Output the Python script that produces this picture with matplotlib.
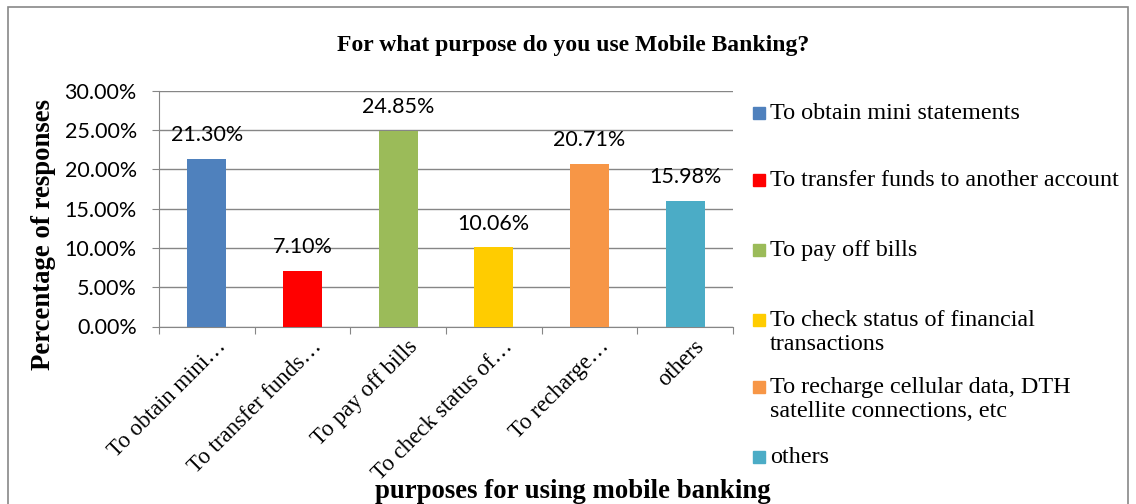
import matplotlib.pyplot as plt
from matplotlib.patches import Rectangle
from matplotlib.ticker import FuncFormatter

# data
short_labels = ['To obtain mini…', 'To transfer funds…', 'To pay off bills',
                'To check status of…', 'To recharge…', 'others']
legend_labels = ['To obtain mini statements',
                 'To transfer funds to another account',
                 'To pay off bills',
                 'To check status of financial\ntransactions',
                 'To recharge cellular data, DTH\nsatellite connections, etc',
                 'others']
values = [21.30, 7.10, 24.85, 10.06, 20.71, 15.98]
colors = ['#4f81bd', '#ff0000', '#9bbb59', '#ffcc00', '#f79646', '#4bacc6']

W, H = 1136, 504
fig = plt.figure(figsize=(W / 100, H / 100), dpi=100)
fig.patch.set_facecolor('white')

# outer chart border
fig.patches.append(Rectangle((8 / W, -0.1), 1120 / W, 1 - 7 / H + 0.1,
                             transform=fig.transFigure, fill=False,
                             edgecolor='#888888', lw=1.2))

ax = fig.add_axes([159 / W, 1 - 326.5 / H, (733 - 159) / W, (326.5 - 90.7) / H])
x = range(len(values))
ax.bar(x, values, width=0.41, color=colors, zorder=3)
for i, v in enumerate(values):
    ax.annotate(f'{v:.2f}%', (i, v), xytext=(0, 10), textcoords='offset points',
                ha='center', va='bottom', fontsize=15.5, family='Lato')

ax.set_xlim(-0.5, len(values) - 0.5)
ax.set_ylim(0, 30)
ax.set_yticks([0, 5, 10, 15, 20, 25, 30])
ax.yaxis.set_major_formatter(FuncFormatter(lambda v, p: f'{v:.2f}%'))
ax.grid(axis='y', color='#868686', lw=1, zorder=0)
for s in ['top', 'right']:
    ax.spines[s].set_visible(False)
for s in ['left', 'bottom']:
    ax.spines[s].set_color('#868686')
ax.tick_params(axis='y', length=5, color='#868686', labelsize=15.5, pad=11)
for t in ax.get_yticklabels():
    t.set_family('Lato')

# category boundary ticks on x
ax.set_xticks([i - 0.5 for i in range(len(values) + 1)])
ax.set_xticklabels([])
ax.tick_params(axis='x', length=5, color='#868686')
for i, lab in enumerate(short_labels):
    ax.text(i + 0.09, -1.2, lab, rotation=45, rotation_mode='anchor',
            ha='right', va='top', fontsize=16.5, family='Liberation Serif',
            transform=ax.transData)

fig.text(573 / W, 1 - 45 / H, 'For what purpose do you use Mobile Banking?',
         ha='center', va='center', fontsize=17, fontweight='bold',
         family='Liberation Serif')
fig.text(44 / W, 1 - 235 / H, 'Percentage of responses', rotation=90,
         ha='center', va='center', fontsize=19.3, fontweight='bold',
         family='Liberation Serif')
fig.text(573 / W, 1 - 491 / H, 'purposes for using mobile banking',
         ha='center', va='center', fontsize=19.3, fontweight='bold',
         family='Liberation Serif')

# legend drawn by hand
leg_y = [113, 180, 250, 320, 387, 457]
for lab, c, y in zip(legend_labels, colors, leg_y):
    fig.patches.append(Rectangle((753 / W, 1 - (y + 6) / H), 12 / W, 12 / H,
                                 transform=fig.transFigure, color=c))
    fig.text(770 / W, 1 - (y - 10) / H, lab, ha='left', va='top',
             fontsize=17.4, family='Liberation Serif', linespacing=1.2)

fig.savefig('out.png', dpi=100)
